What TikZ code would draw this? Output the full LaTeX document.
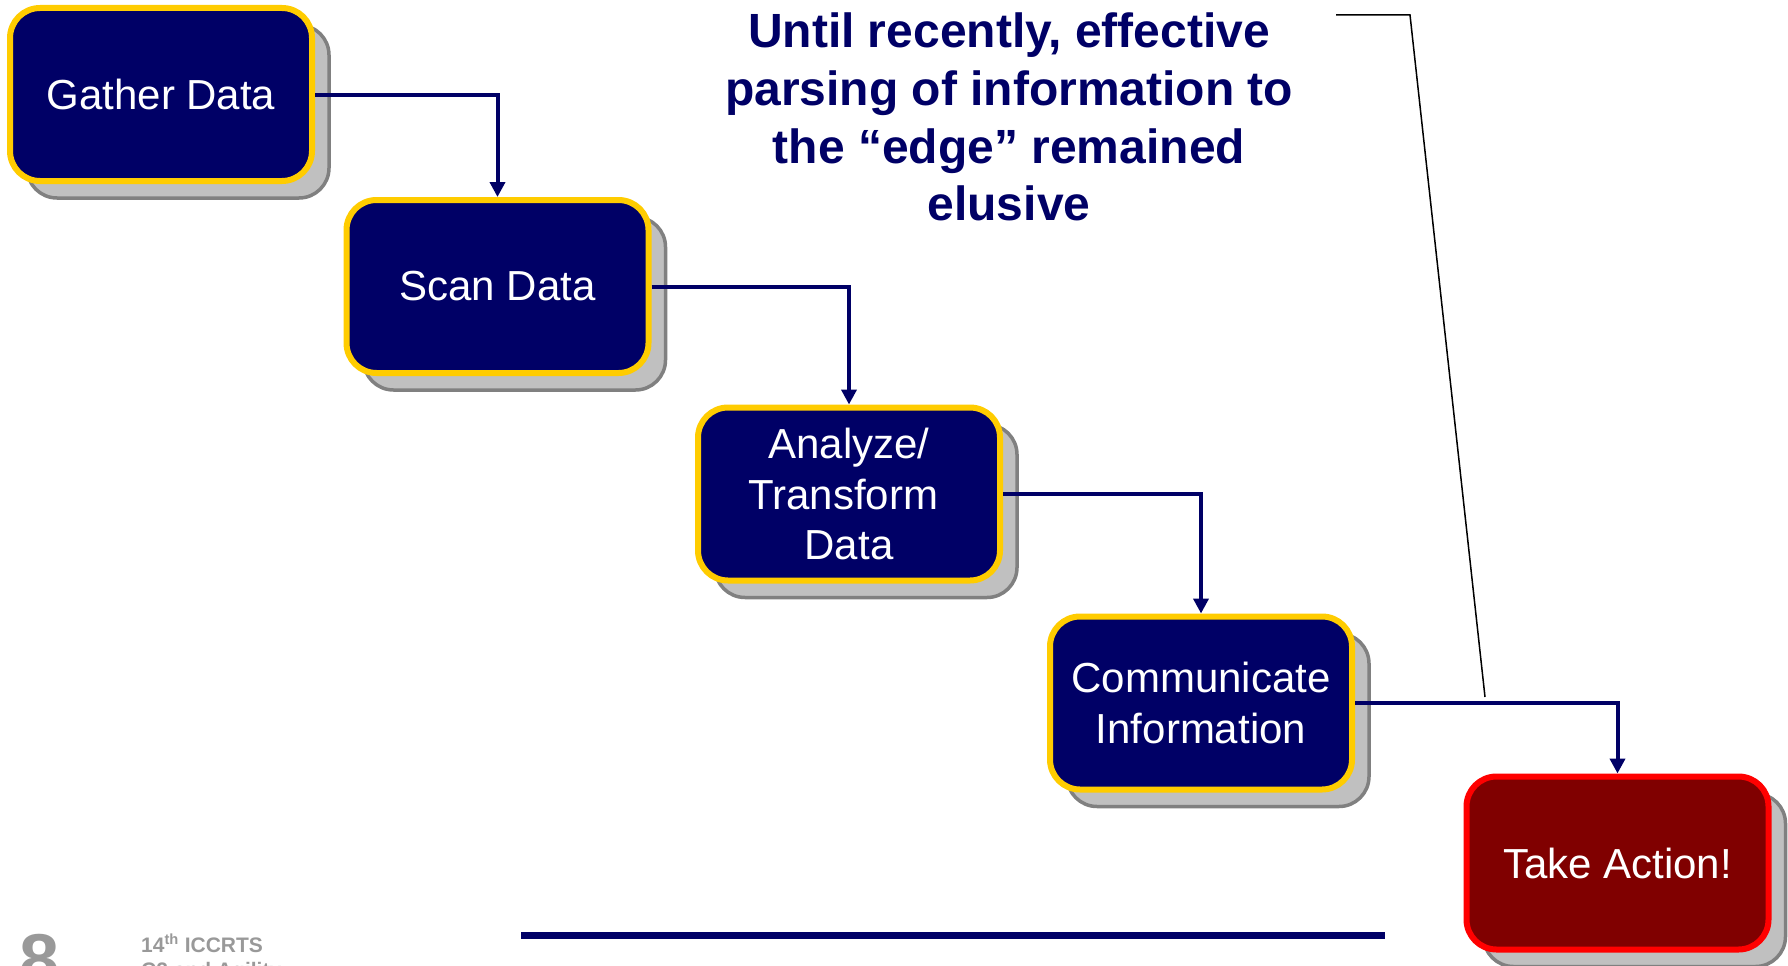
\documentclass[tikz,border=0pt]{standalone}
\usepackage{fontspec}
\setmainfont{Liberation Sans}
\usetikzlibrary{arrows.meta,shadows}

\definecolor{navy}{HTML}{000066}
\definecolor{gold}{HTML}{FFCC00}
\definecolor{shgray}{HTML}{C0C0C0}
\definecolor{shedge}{HTML}{808080}
\definecolor{darkred}{HTML}{800000}
\definecolor{alertred}{HTML}{FF0000}
\definecolor{footgray}{HTML}{999999}

\tikzset{
  stepbox/.style={rectangle, rounded corners=30pt, minimum width=302pt,
    minimum height=173pt, inner sep=0pt, line width=6pt, draw=gold,
    fill=navy, text=white, align=center,
    font=\fontsize{42}{50.4}\selectfont,
    drop shadow={shadow xshift=17pt, shadow yshift=-17pt, opacity=1,
      fill=shgray, draw=shedge, line width=3.5pt}},
  actionbox/.style={stepbox, draw=alertred, fill=darkred},
  flow/.style={draw=navy, line width=4pt,
    -{Triangle[length=15pt,width=15pt]}},
  note/.style={font=\fontsize{48}{57.6}\selectfont\bfseries, text=navy,
    anchor=base, inner sep=0pt},
  foot/.style={text=footgray, anchor=base west, inner sep=0pt},
}

\begin{document}
\begin{tikzpicture}[x=1pt, y=-1pt]
  \useasboundingbox (0,0) rectangle (1788,966);
  \clip (0,0) rectangle (1788,966);

  % process steps
  \node[stepbox] (gather) at (161,94.5) {Gather Data};
  \node[stepbox] (scan) at (497.5,286.5) {Scan Data};
  \node[stepbox] (analyze) at (849,494) {Analyze/\\Transform\kern0.278em\\Data};
  \node[stepbox] (comm) at (1201,703) {Communicate\\Information};
  \node[actionbox] (act) at (1617.5,863) {Take Action!};

  % flow between steps
  \draw[flow] (gather.east) -| (scan.north);
  \draw[flow] (scan.east) -| (analyze.north);
  \draw[flow] (analyze.east) -| (comm.north);
  \draw[flow] (comm.east) -| (act.north);

  % remark
  \node[note] (t1) at (1009,48) {Until recently, effective};
  \node[note] (t2) at (1009,105.6) {parsing of information to};
  \node[note] (t3) at (1009,163.2) {the “edge” remained};
  \node[note] (t4) at (1009,220.8) {elusive};

  % pointer from the remark to the last hand-off
  \coordinate (p1) at (1336,15);
  \coordinate (p2) at (1410,15);
  \coordinate (p3) at (1485,697);
  \draw[line width=1.5pt] (p1) -- (p2) -- (p3);

  % footer
  \coordinate (b1) at (521,935);
  \coordinate (b2) at (1385,935);
  \draw[navy, line width=7pt] (b1) -- (b2);
  \node[foot, font=\fontsize{72}{72}\selectfont\bfseries] (pnum) at (19,984) {8};
  \node[foot, font=\fontsize{21}{25}\selectfont\bfseries] (conf1) at (141,952) {14\textsuperscript{th} ICCRTS};
  \node[foot, font=\fontsize{21}{25}\selectfont\bfseries] (conf2) at (141,977) {C2 and Agility};
\end{tikzpicture}
\end{document}
